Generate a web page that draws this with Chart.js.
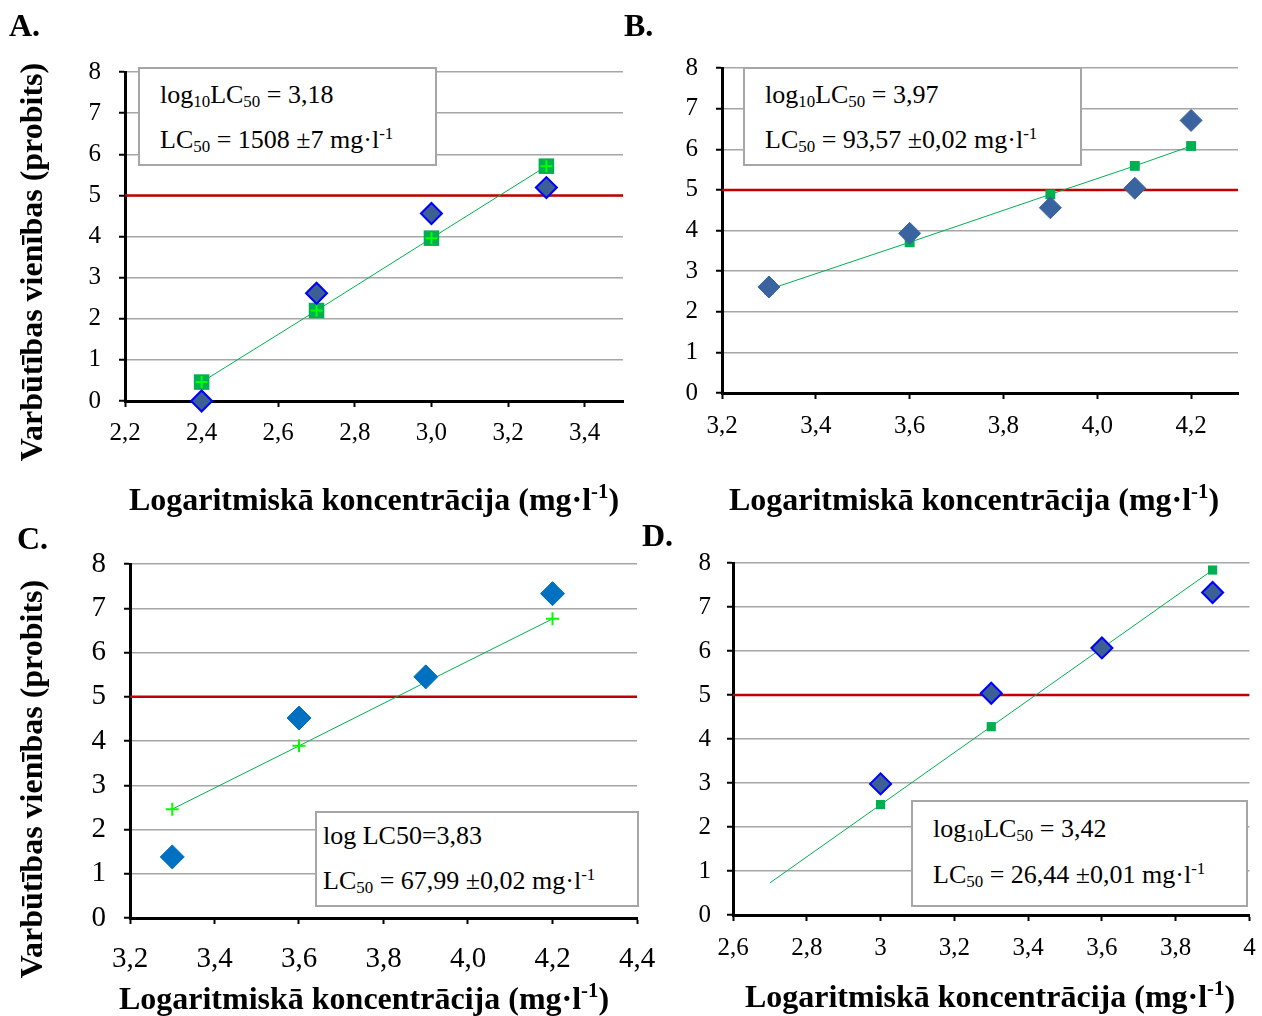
<!DOCTYPE html>
<html>
<head>
<meta charset="utf-8">
<script src="https://cdn.jsdelivr.net/npm/chart.js@4"></script>
<style>
  body { margin: 0; background: #fff; width: 1262px; height: 1016px; position: relative; overflow: hidden; font-family: "Liberation Serif", "Times New Roman", serif; }
  .panel { position: absolute; }
  .letter { position: absolute; font-weight: bold; font-size: 32px; }
  .ytitle { position: absolute; font-weight: bold; font-size: 32px; white-space: nowrap; transform: translate(-50%, -50%) rotate(-90deg); }
  .xtitle { position: absolute; font-weight: bold; font-size: 32px; white-space: nowrap; transform: translate(-50%, -50%); }
  .box { position: absolute; background: #fff; border: 2px solid #a6a6a6; font-size: 26px; box-sizing: border-box; }
  .box div { position: absolute; white-space: nowrap; }
  sub { font-size: 65%; vertical-align: -0.25em; line-height: 0; }
  sup { font-size: 65%; vertical-align: 0.55em; line-height: 0; }
</style>
</head>
<body>

<canvas id="chartA" class="panel" style="left:0;top:0"></canvas>
<canvas id="chartB" class="panel" style="left:640px;top:0"></canvas>
<canvas id="chartC" class="panel" style="left:0;top:480px"></canvas>
<canvas id="chartD" class="panel" style="left:660px;top:480px"></canvas>

<div class="letter" style="left:9px;top:7px">A.</div>
<div class="letter" style="left:624px;top:7px">B.</div>
<div class="letter" style="left:17px;top:520px">C.</div>
<div class="letter" style="left:642px;top:517px">D.</div>

<div class="ytitle" style="left:31px;top:262px">Varbūtības vienības (probits)</div>
<div class="ytitle" style="left:31px;top:779px">Varbūtības vienības (probits)</div>

<div class="xtitle" style="left:374px;top:499px">Logaritmiskā koncentrācija (mg·l<sup>-1</sup>)</div>
<div class="xtitle" style="left:974px;top:499px">Logaritmiskā koncentrācija (mg·l<sup>-1</sup>)</div>
<div class="xtitle" style="left:364px;top:998px">Logaritmiskā koncentrācija (mg·l<sup>-1</sup>)</div>
<div class="xtitle" style="left:990px;top:996px">Logaritmiskā koncentrācija (mg·l<sup>-1</sup>)</div>

<div class="box" style="left:138px;top:67px;width:299px;height:99px">
  <div style="left:20px;top:11px">log<sub>10</sub>LC<sub>50</sub> = 3,18</div>
  <div style="left:20px;top:56px">LC<sub>50</sub> = 1508 ±7 mg·l<sup>-1</sup></div>
</div>
<div class="box" style="left:743px;top:67px;width:339px;height:99px">
  <div style="left:20px;top:11px">log<sub>10</sub>LC<sub>50</sub> = 3,97</div>
  <div style="left:20px;top:56px">LC<sub>50</sub> = 93,57 ±0,02 mg·l<sup>-1</sup></div>
</div>
<div class="box" style="left:315px;top:811px;width:324px;height:96px">
  <div style="left:6px;top:8px">log LC50=3,83</div>
  <div style="left:6px;top:53px">LC<sub>50</sub> = 67,99 ±0,02 mg·l<sup>-1</sup></div>
</div>
<div class="box" style="left:911px;top:800px;width:337px;height:107px">
  <div style="left:20px;top:12px">log<sub>10</sub>LC<sub>50</sub> = 3,42</div>
  <div style="left:20px;top:58px">LC<sub>50</sub> = 26,44 ±0,01 mg·l<sup>-1</sup></div>
</div>

<script>
// probit value that marks 50 % mortality
const probit50 = 5;

const yTicks = [0, 1, 2, 3, 4, 5, 6, 7, 8];
const yLabels = ['0', '1', '2', '3', '4', '5', '6', '7', '8'];

// A
const xTicksA = [2.2, 2.4, 2.6, 2.8, 3.0, 3.2, 3.4];
const xLabelsA = ['2,2', '2,4', '2,6', '2,8', '3,0', '3,2', '3,4'];
const concA = [2.4, 2.7, 3.0, 3.3];
const observedA = [0, 2.62, 4.56, 5.19];
const expectedA = [0.46, 2.2, 3.96, 5.71];

// B
const xTicksB = [3.2, 3.4, 3.6, 3.8, 4.0, 4.2];
const xLabelsB = ['3,2', '3,4', '3,6', '3,8', '4,0', '4,2'];
const concB = [3.3, 3.6, 3.9, 4.08, 4.2];
const observedB = [2.61, 3.93, 4.56, 5.04, 6.71];
const expectedB = [2.55, 3.71, 4.89, 5.59, 6.08];

// C
const xTicksC = [3.2, 3.4, 3.6, 3.8, 4.0, 4.2, 4.4];
const xLabelsC = ['3,2', '3,4', '3,6', '3,8', '4,0', '4,2', '4,4'];
const concC = [3.3, 3.6, 3.9, 4.2];
const observedC = [1.38, 4.52, 5.45, 7.33];
const expectedC = [2.46, 3.89, 5.33, 6.76];

// D
const xTicksD = [2.6, 2.8, 3.0, 3.2, 3.4, 3.6, 3.8, 4.0];
const xLabelsD = ['2,6', '2,8', '3', '3,2', '3,4', '3,6', '3,8', '4'];
const concD = [3.0, 3.3, 3.6, 3.9];
const observedD = [2.98, 5.04, 6.07, 7.33];
const expectedD = [2.51, 4.28, 6.07, 7.84];
const trendXD = [2.7, 3.9];
const trendYD = [0.73, 7.84];

const pts = (xs, ys) => xs.map((x, i) => ({ x: x, y: ys[i] }));

const serif = 'Liberation Serif';

const makeChart = (id, cfg) => {
  const canvas = document.getElementById(id);
  canvas.width = cfg.width;
  canvas.height = cfg.height;
  canvas.style.width = cfg.width + 'px';
  canvas.style.height = cfg.height + 'px';

  const datasets = cfg.datasets.concat([{
    data: [{ x: cfg.xMin, y: probit50 }, { x: cfg.xMax, y: probit50 }],
    showLine: true,
    borderColor: '#c00000',
    borderWidth: 2.5,
    pointRadius: 0,
    order: 9
  }]);

  return new Chart(canvas.getContext('2d'), {
    type: 'scatter',
    data: { datasets: datasets },
    options: {
      responsive: false,
      animation: false,
      events: [],
      layout: { padding: cfg.padding },
      plugins: { legend: { display: false }, tooltip: { enabled: false } },
      scales: {
        x: {
          type: 'linear',
          min: cfg.xMin,
          max: cfg.xMax,
          afterBuildTicks: (scale) => { scale.ticks = cfg.xTicks.map(v => ({ value: v })); },
          afterFit: (scale) => {
            scale.height = cfg.xHeight;
            // let the layout padding alone decide where the plot ends
            scale.paddingLeft = 0;
            scale.paddingRight = 0;
          },
          ticks: {
            autoSkip: false,
            maxRotation: 0,
            padding: cfg.xPad,
            color: '#000',
            font: { family: serif, size: cfg.fontSize },
            callback: (v, i) => cfg.xLabels[i]
          },
          grid: { drawOnChartArea: false, drawTicks: true, tickLength: 6, tickColor: '#000', tickWidth: 2 },
          border: { color: '#000', width: 3 }
        },
        y: {
          type: 'linear',
          min: 0,
          max: 8,
          afterBuildTicks: (scale) => { scale.ticks = yTicks.map(v => ({ value: v })); },
          afterFit: (scale) => { scale.width = cfg.yWidth; },
          ticks: {
            padding: cfg.yPad,
            color: '#000',
            font: { family: serif, size: cfg.fontSize },
            callback: (v, i) => yLabels[i]
          },
          grid: { color: '#a6a6a6', lineWidth: 1.5, tickLength: 6, tickColor: '#000', tickWidth: 2 },
          border: { color: '#000', width: 3 }
        }
      }
    }
  });
};

// observed points: diamonds; expected (probit fit): green
makeChart('chartA', {
  width: 640, height: 470,
  padding: { top: 72, right: 17, left: 0, bottom: 0 },
  yWidth: 125, xHeight: 69, xPad: 11, yPad: 18, fontSize: 25,
  xMin: 2.2, xMax: 3.5, xTicks: xTicksA, xLabels: xLabelsA,
  datasets: [
    { data: pts(concA, observedA), pointStyle: 'rectRot', pointRadius: 10.5, clip: false,
      backgroundColor: '#3c5f94', borderColor: '#0000ff', borderWidth: 2, order: 0 },
    { data: pts(concA, expectedA), pointStyle: 'cross', pointRadius: 6, clip: false,
      borderColor: '#00ff00', borderWidth: 2, order: 1 },
    { data: pts(concA, expectedA), showLine: true, pointStyle: 'rect', pointRadius: 11,
      backgroundColor: '#00b050', borderColor: '#00b050', borderWidth: 1, clip: false,
      pointBorderWidth: 0, order: 2 }
  ]
});

makeChart('chartB', {
  width: 622, height: 470,
  padding: { top: 68, right: 24, left: 0, bottom: 0 },
  yWidth: 82, xHeight: 77, xPad: 12, yPad: 18, fontSize: 25,
  xMin: 3.2, xMax: 4.3, xTicks: xTicksB, xLabels: xLabelsB,
  datasets: [
    { data: pts(concB, observedB), pointStyle: 'rectRot', pointRadius: 11, clip: false,
      backgroundColor: '#3a64a0', borderColor: '#3a64a0', borderWidth: 1, order: 0 },
    { data: pts(concB, expectedB), showLine: true, pointStyle: 'rect', pointRadius: 7,
      backgroundColor: '#00b050', borderColor: '#00b050', borderWidth: 1,
      pointBorderWidth: 0, order: 2 }
  ]
});

makeChart('chartC', {
  width: 660, height: 536,
  padding: { top: 84, right: 23, left: 0, bottom: 0 },
  yWidth: 130, xHeight: 98, xPad: 18, yPad: 18, fontSize: 29,
  xMin: 3.2, xMax: 4.4, xTicks: xTicksC, xLabels: xLabelsC,
  datasets: [
    { data: pts(concC, observedC), pointStyle: 'rectRot', pointRadius: 12, clip: false,
      backgroundColor: '#0070c0', borderColor: '#0070c0', borderWidth: 1, order: 0 },
    { data: pts(concC, expectedC), showLine: true, pointStyle: 'cross', pointRadius: 6.5,
      borderColor: '#00b050', borderWidth: 1, pointBorderColor: '#00ff00',
      pointBorderWidth: 2, order: 1 }
  ]
});

makeChart('chartD', {
  width: 602, height: 536,
  padding: { top: 83, right: 10, left: 0, bottom: 0 },
  yWidth: 73, xHeight: 101, xPad: 12, yPad: 16, fontSize: 25,
  xMin: 2.6, xMax: 4.0, xTicks: xTicksD, xLabels: xLabelsD,
  datasets: [
    { data: pts(concD, observedD), pointStyle: 'rectRot', pointRadius: 10.5, clip: false,
      backgroundColor: '#3c5f94', borderColor: '#0000ff', borderWidth: 2, order: 0 },
    { data: pts(concD, expectedD), pointStyle: 'rect', pointRadius: 6.5, clip: false,
      backgroundColor: '#00b050', borderColor: '#00b050', borderWidth: 0, order: 2 },
    { data: pts(trendXD, trendYD), showLine: true, pointRadius: 0,
      borderColor: '#00b050', borderWidth: 1, order: 3 }
  ]
});
</script>
</body>
</html>
